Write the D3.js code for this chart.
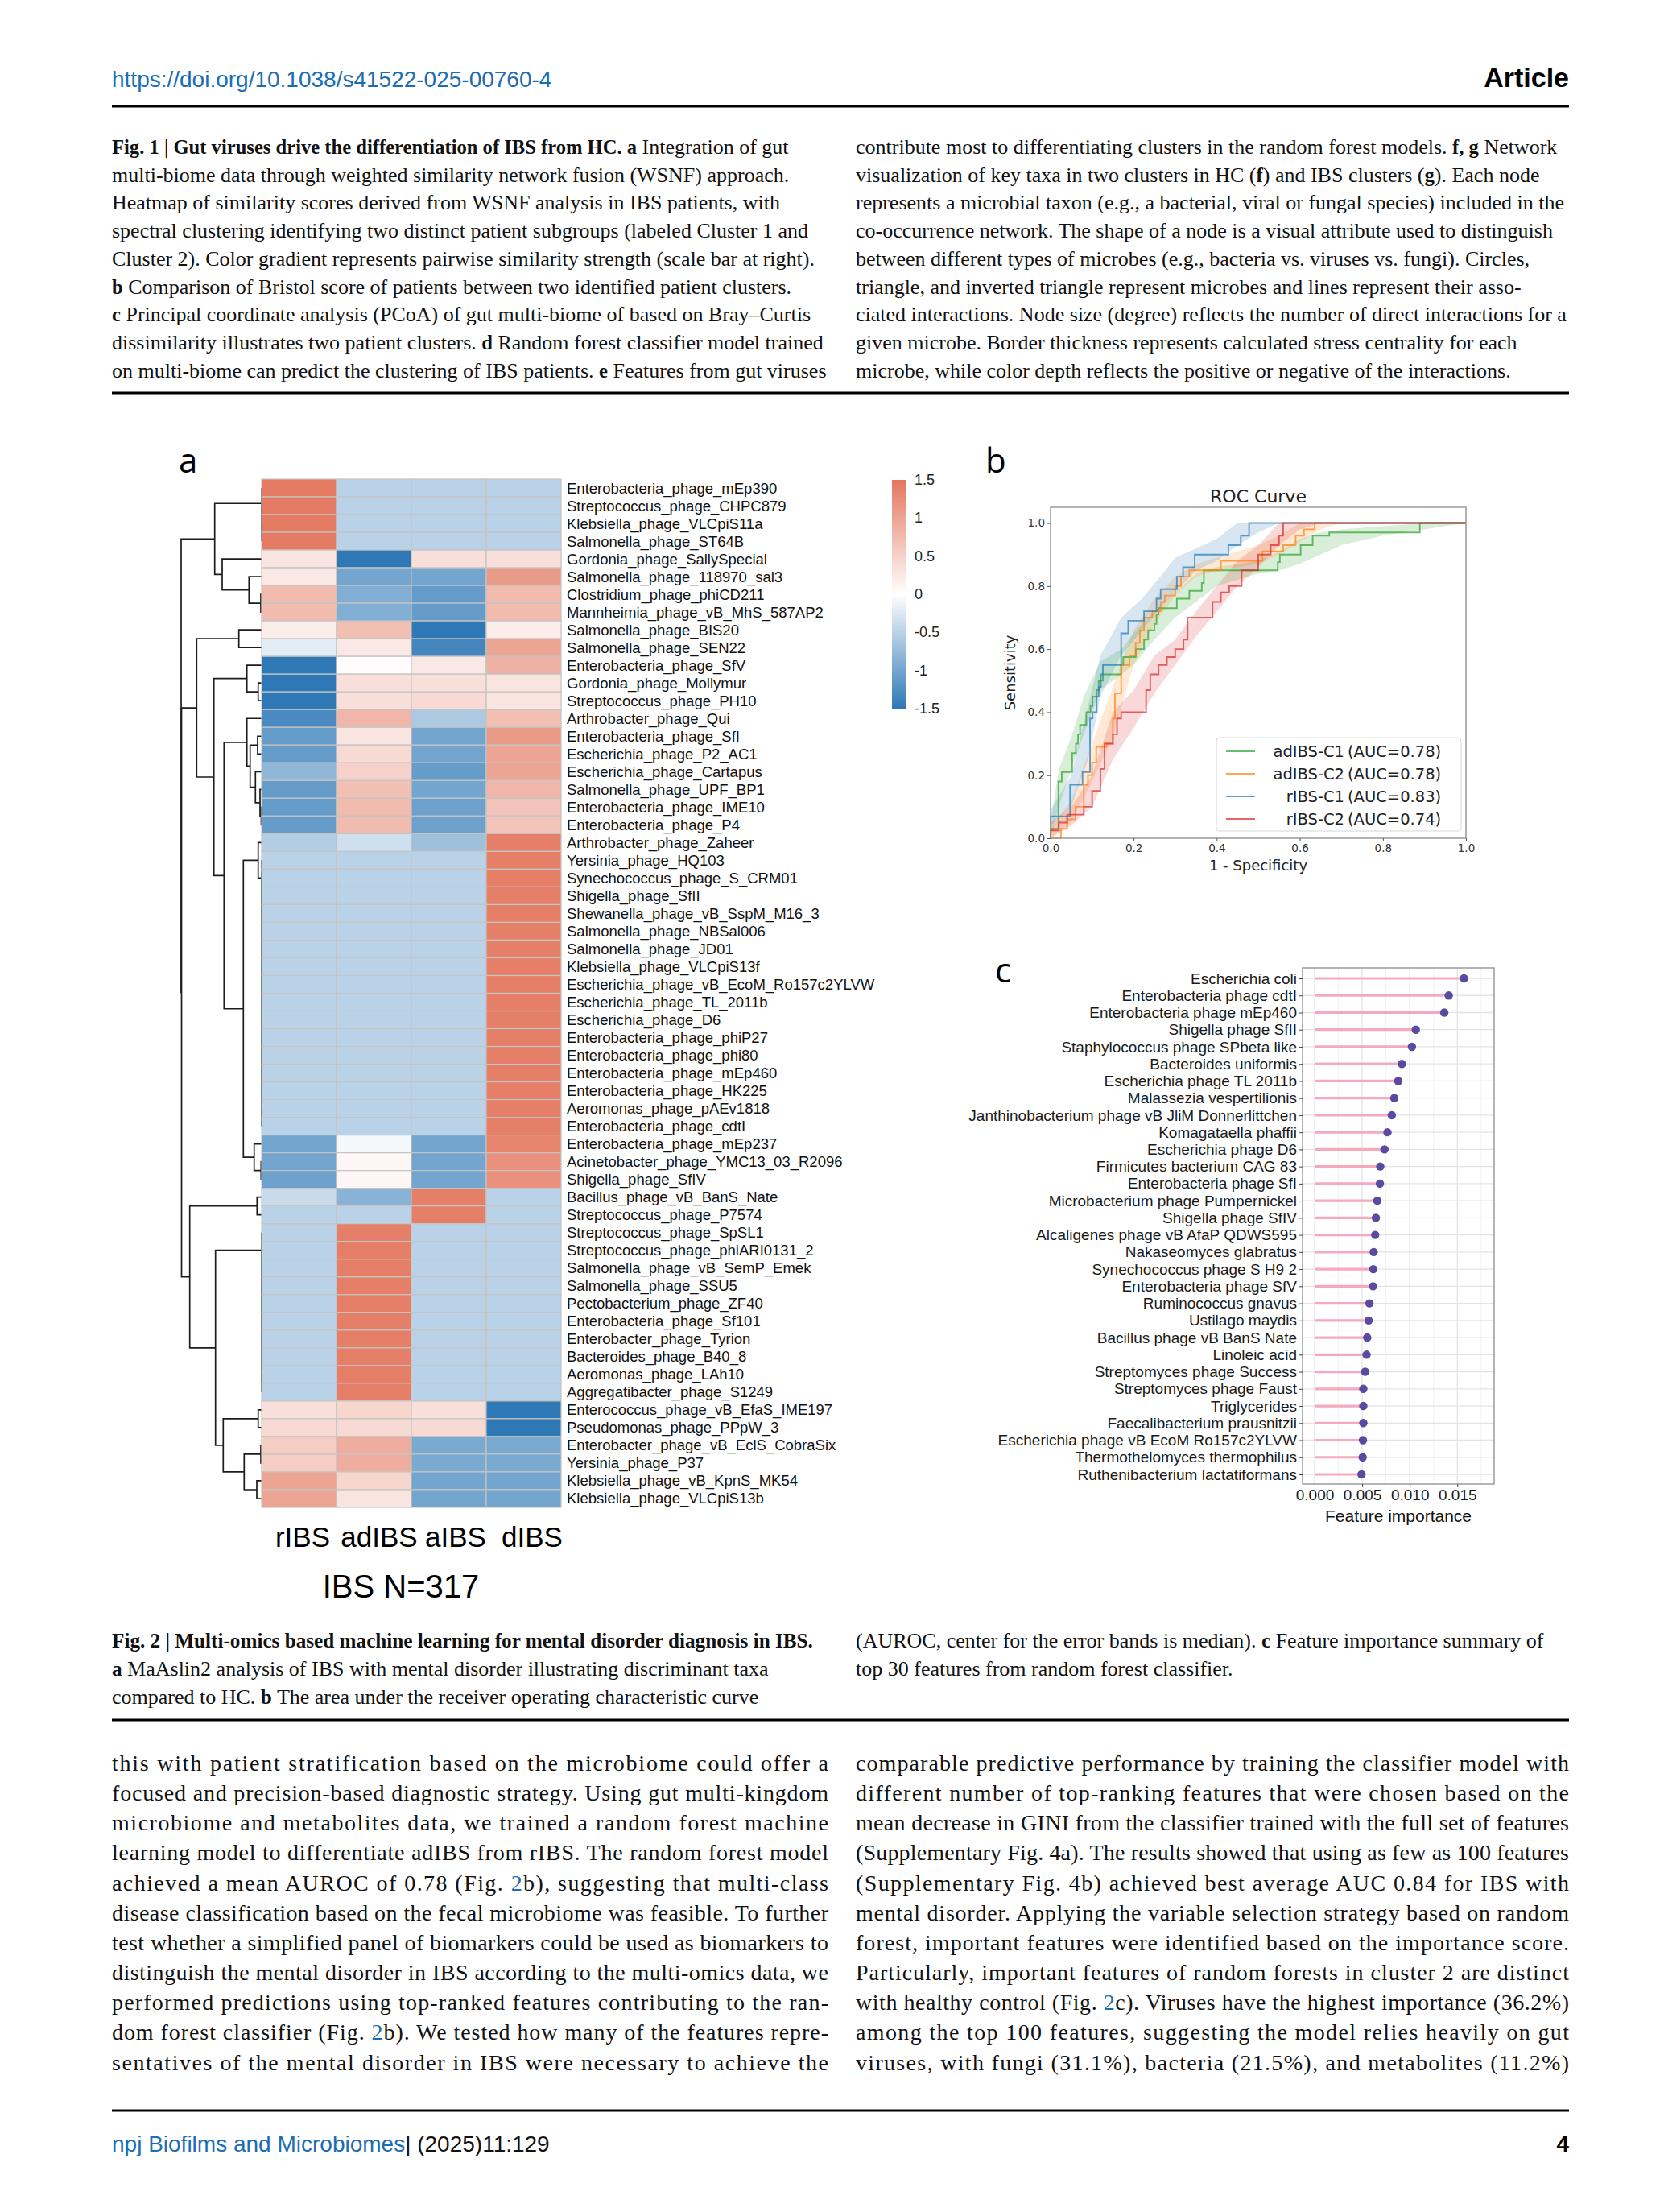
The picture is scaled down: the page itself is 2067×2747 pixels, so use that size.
<!DOCTYPE html>
<html>
<head>
<meta charset="utf-8">
<script src="https://cdn.jsdelivr.net/npm/d3@7"></script>
<style>
  body { margin: 0; background: #fff; }
</style>
</head>
<body>
<div id="page"></div>
<script>
// ---------- data ----------
const rowNames = [
  "Enterobacteria_phage_mEp390", "Streptococcus_phage_CHPC879", "Klebsiella_phage_VLCpiS11a",
  "Salmonella_phage_ST64B", "Gordonia_phage_SallySpecial", "Salmonella_phage_118970_sal3",
  "Clostridium_phage_phiCD211", "Mannheimia_phage_vB_MhS_587AP2", "Salmonella_phage_BIS20",
  "Salmonella_phage_SEN22", "Enterobacteria_phage_SfV", "Gordonia_phage_Mollymur",
  "Streptococcus_phage_PH10", "Arthrobacter_phage_Qui", "Enterobacteria_phage_SfI",
  "Escherichia_phage_P2_AC1", "Escherichia_phage_Cartapus", "Salmonella_phage_UPF_BP1",
  "Enterobacteria_phage_IME10", "Enterobacteria_phage_P4", "Arthrobacter_phage_Zaheer",
  "Yersinia_phage_HQ103", "Synechococcus_phage_S_CRM01", "Shigella_phage_SfII",
  "Shewanella_phage_vB_SspM_M16_3", "Salmonella_phage_NBSal006", "Salmonella_phage_JD01",
  "Klebsiella_phage_VLCpiS13f", "Escherichia_phage_vB_EcoM_Ro157c2YLVW", "Escherichia_phage_TL_2011b",
  "Escherichia_phage_D6", "Enterobacteria_phage_phiP27", "Enterobacteria_phage_phi80",
  "Enterobacteria_phage_mEp460", "Enterobacteria_phage_HK225", "Aeromonas_phage_pAEv1818",
  "Enterobacteria_phage_cdtI", "Enterobacteria_phage_mEp237", "Acinetobacter_phage_YMC13_03_R2096",
  "Shigella_phage_SfIV", "Bacillus_phage_vB_BanS_Nate", "Streptococcus_phage_P7574",
  "Streptococcus_phage_SpSL1", "Streptococcus_phage_phiARI0131_2", "Salmonella_phage_vB_SemP_Emek",
  "Salmonella_phage_SSU5", "Pectobacterium_phage_ZF40", "Enterobacteria_phage_Sf101",
  "Enterobacter_phage_Tyrion", "Bacteroides_phage_B40_8", "Aeromonas_phage_LAh10",
  "Aggregatibacter_phage_S1249", "Enterococcus_phage_vB_EfaS_IME197", "Pseudomonas_phage_PPpW_3",
  "Enterobacter_phage_vB_EclS_CobraSix", "Yersinia_phage_P37", "Klebsiella_phage_vB_KpnS_MK54",
  "Klebsiella_phage_VLCpiS13b"
];
const colNames = ["rIBS", "adIBS", "aIBS", "dIBS"];

// one row per taxon: rIBS, adIBS, aIBS, dIBS
const cellValues = [
  [1.45, -0.5, -0.5, -0.5], [1.45, -0.5, -0.5, -0.5], [1.45, -0.5, -0.5, -0.5], [1.45, -0.5, -0.5, -0.5],
  [0.3, -1.5, 0.35, 0.35], [0.25, -1.0, -1.0, 1.1], [0.75, -0.9, -1.1, 0.75], [0.75, -0.9, -1.1, 0.75],
  [0.2, 0.7, -1.5, 0.2], [-0.2, 0.25, -1.35, 1.0], [-1.5, 0.03, 0.25, 0.85], [-1.5, 0.35, 0.35, 0.3],
  [-1.5, 0.35, 0.4, 0.3], [-1.3, 0.8, -0.6, 0.7], [-1.1, 0.3, -1.0, 1.1], [-1.1, 0.4, -1.0, 1.0],
  [-0.8, 0.5, -1.1, 1.0], [-1.1, 0.7, -1.0, 0.8], [-1.1, 0.75, -1.05, 0.65], [-1.1, 0.75, -1.05, 0.65],
  [-0.55, -0.35, -0.7, 1.4], [-0.5, -0.5, -0.5, 1.4], [-0.5, -0.5, -0.5, 1.4], [-0.5, -0.5, -0.5, 1.4],
  [-0.5, -0.5, -0.5, 1.4], [-0.5, -0.5, -0.5, 1.4], [-0.5, -0.5, -0.5, 1.4], [-0.5, -0.5, -0.5, 1.4],
  [-0.5, -0.5, -0.5, 1.4], [-0.5, -0.5, -0.5, 1.4], [-0.5, -0.5, -0.5, 1.4], [-0.5, -0.5, -0.5, 1.4],
  [-0.5, -0.5, -0.5, 1.4], [-0.5, -0.5, -0.5, 1.4], [-0.5, -0.5, -0.5, 1.4], [-0.5, -0.5, -0.5, 1.4],
  [-0.5, -0.5, -0.5, 1.4], [-1.0, -0.08, -1.0, 1.35], [-1.0, 0.1, -1.0, 1.2], [-1.05, 0.1, -1.0, 1.2],
  [-0.4, -0.85, 1.4, -0.5], [-0.5, -0.5, 1.4, -0.5], [-0.5, 1.4, -0.5, -0.5], [-0.5, 1.4, -0.5, -0.5],
  [-0.5, 1.4, -0.5, -0.5], [-0.5, 1.4, -0.5, -0.5], [-0.5, 1.4, -0.5, -0.5], [-0.5, 1.4, -0.5, -0.5],
  [-0.5, 1.4, -0.5, -0.5], [-0.5, 1.4, -0.5, -0.5], [-0.5, 1.4, -0.5, -0.5], [-0.5, 1.4, -0.5, -0.5],
  [0.35, 0.45, 0.35, -1.5], [0.4, 0.4, 0.4, -1.5], [0.55, 0.9, -0.95, -0.95], [0.55, 0.9, -0.95, -0.95],
  [1.0, 0.45, -1.0, -1.0], [1.0, 0.3, -1.0, -1.0]
];

// row dendrogram: [height, left, right], leaves are 1-based row numbers
const rowTree =
[1.0,
  [0.583,
    [0, 1, [0, 2, [0, 3, 4]]],
    [0.49, 5, [0.157, 6, [0.01, 7, 8]]]],
  [0.995,
    [0.807,
      [0.283, 9, 10],
      [0.593,
        [0.183, 11, [0.043, 12, 13]],
        [0.467,
          [0.183, 14, [0.143, [0.05, 15, 16], [0.077, 17, [0.02, 18, [0.005, 19, 20]]]]],
          [0.227,
            [0.043, 21, [0, 22, [0, 23, [0, 24, [0, 25, [0, 26, [0, 27, [0, 28, [0, 29, [0, 30, [0, 31, [0, 32, [0, 33, [0, 34, [0, 35, [0, 36, 37]]]]]]]]]]]]]]]],
            [0.093, 38, [0.007, 39, 40]]]]]],
    [0.893,
      [0.057, 41, 42],
      [0.573,
        [0, 43, [0, 44, [0, 45, [0, 46, [0, 47, [0, 48, [0, 49, [0, 50, [0, 51, 52]]]]]]]]],
        [0.477,
          [0.043, 53, 54],
          [0.217, [0.01, 55, 56], [0.06, 57, 58]]]]]]];

const colorTicks = [1.5, 1, 0.5, 0, -0.5, -1, -1.5];

// ROC (fpr, tpr) median steps and (fpr, lower, upper) bands
const rocNames = ["adIBS-C1", "adIBS-C2", "rIBS-C1", "rIBS-C2"];
const rocAuc = ["0.78", "0.78", "0.83", "0.74"];
const rocAdC1 = [[0, 0], [0, 0.03], [0.019, 0.18], [0.027, 0.21], [0.052, 0.27], [0.061, 0.30], [0.066, 0.33],
  [0.071, 0.36], [0.086, 0.40], [0.096, 0.42], [0.101, 0.45], [0.111, 0.47], [0.116, 0.50], [0.126, 0.52],
  [0.170, 0.55], [0.175, 0.575], [0.205, 0.60], [0.225, 0.63], [0.235, 0.66], [0.250, 0.68], [0.255, 0.71],
  [0.260, 0.73], [0.304, 0.76], [0.334, 0.785], [0.364, 0.81], [0.369, 0.85], [0.547, 0.876], [0.552, 0.90],
  [0.602, 0.93], [0.631, 0.96], [0.671, 0.97], [0.889, 1.0], [1, 1]];
const rocAdC2 = [[0, 0], [0.02, 0], [0.025, 0.03], [0.04, 0.06], [0.06, 0.1], [0.08, 0.17], [0.09, 0.2],
  [0.1, 0.24], [0.11, 0.29], [0.135, 0.3], [0.15, 0.38], [0.155, 0.46], [0.17, 0.55], [0.19, 0.58],
  [0.205, 0.62], [0.215, 0.66], [0.225, 0.7], [0.245, 0.72], [0.265, 0.75], [0.275, 0.77], [0.3, 0.8],
  [0.314, 0.83], [0.334, 0.85], [0.41, 0.88], [0.51, 0.91], [0.56, 0.93], [0.59, 0.96], [0.61, 0.98],
  [0.636, 1.0], [1, 1]];
const rocRC1 = [[0, 0], [0, 0.07], [0.047, 0.17], [0.077, 0.21], [0.095, 0.38], [0.101, 0.40], [0.111, 0.45],
  [0.116, 0.48], [0.121, 0.52], [0.126, 0.55], [0.170, 0.65], [0.187, 0.69], [0.225, 0.72], [0.255, 0.76],
  [0.265, 0.79], [0.304, 0.83], [0.319, 0.86], [0.347, 0.90], [0.428, 0.93], [0.458, 0.96], [0.478, 1.0], [1, 1]];
const rocRC2 = [[0, 0], [0, 0.025], [0.02, 0.05], [0.04, 0.075], [0.08, 0.1], [0.1, 0.15], [0.12, 0.22],
  [0.13, 0.3], [0.15, 0.33], [0.16, 0.38], [0.17, 0.4], [0.22, 0.4], [0.23, 0.47], [0.24, 0.52], [0.26, 0.55],
  [0.28, 0.575], [0.3, 0.6], [0.32, 0.63], [0.33, 0.7], [0.38, 0.7], [0.39, 0.75], [0.41, 0.78], [0.43, 0.8],
  [0.46, 0.85], [0.5, 0.9], [0.53, 0.93], [0.55, 0.96], [0.56, 1.0], [1, 1]];
const bandAdC1 = [[0, 0, 0.05], [0.02, 0.1, 0.22], [0.05, 0.22, 0.32], [0.08, 0.33, 0.45], [0.12, 0.47, 0.56],
  [0.17, 0.52, 0.6], [0.2, 0.55, 0.65], [0.25, 0.63, 0.72], [0.3, 0.7, 0.78], [0.35, 0.75, 0.84], [0.4, 0.8, 0.86],
  [0.5, 0.84, 0.88], [0.55, 0.85, 0.91], [0.6, 0.87, 0.95], [0.65, 0.9, 0.97], [0.7, 0.93, 0.98],
  [0.8, 0.96, 0.99], [0.9, 0.98, 1.0], [1, 1, 1]];
const bandAdC2 = [[0, 0, 0.03], [0.05, 0.05, 0.12], [0.1, 0.18, 0.3], [0.15, 0.32, 0.48], [0.2, 0.55, 0.66],
  [0.25, 0.68, 0.76], [0.3, 0.77, 0.83], [0.35, 0.83, 0.87], [0.4, 0.85, 0.89], [0.5, 0.87, 0.93],
  [0.55, 0.9, 0.96], [0.6, 0.94, 1.0], [0.65, 0.98, 1.0], [0.7, 1, 1], [1, 1, 1]];
const bandRC1 = [[0, 0.04, 0.09], [0.05, 0.1, 0.2], [0.09, 0.25, 0.42], [0.12, 0.45, 0.58], [0.17, 0.58, 0.7],
  [0.22, 0.66, 0.76], [0.27, 0.74, 0.84], [0.3, 0.78, 0.89], [0.35, 0.85, 0.92], [0.4, 0.88, 0.95],
  [0.45, 0.93, 1.0], [0.5, 0.97, 1.0], [0.55, 1, 1], [1, 1, 1]];
const bandRC2 = [[0, 0, 0.05], [0.05, 0.04, 0.1], [0.1, 0.1, 0.2], [0.15, 0.25, 0.4], [0.2, 0.35, 0.47],
  [0.25, 0.46, 0.58], [0.3, 0.55, 0.63], [0.35, 0.64, 0.72], [0.4, 0.72, 0.8], [0.45, 0.8, 0.88],
  [0.5, 0.86, 0.93], [0.55, 0.93, 1.0], [0.6, 0.98, 1.0], [0.65, 1, 1], [1, 1, 1]];
const rocTicks = [0, 0.2, 0.4, 0.6, 0.8, 1.0];

const featureNames = [
  "Escherichia coli", "Enterobacteria phage cdtI", "Enterobacteria phage mEp460", "Shigella phage SfII",
  "Staphylococcus phage SPbeta like", "Bacteroides uniformis", "Escherichia phage TL 2011b",
  "Malassezia vespertilionis", "Janthinobacterium phage vB JliM Donnerlittchen", "Komagataella phaffii",
  "Escherichia phage D6", "Firmicutes bacterium CAG 83", "Enterobacteria phage SfI",
  "Microbacterium phage Pumpernickel", "Shigella phage SfIV", "Alcaligenes phage vB AfaP QDWS595",
  "Nakaseomyces glabratus", "Synechococcus phage S H9 2", "Enterobacteria phage SfV", "Ruminococcus gnavus",
  "Ustilago maydis", "Bacillus phage vB BanS Nate", "Linoleic acid", "Streptomyces phage Success",
  "Streptomyces phage Faust", "Triglycerides", "Faecalibacterium prausnitzii",
  "Escherichia phage vB EcoM Ro157c2YLVW", "Thermothelomyces thermophilus", "Ruthenibacterium lactatiformans"
];
const featureImportance = [
  0.0157, 0.0141, 0.01363, 0.01064, 0.01023, 0.00917, 0.00879, 0.00837, 0.00811, 0.00766,
  0.00735, 0.0069, 0.00686, 0.00659, 0.00644, 0.00637, 0.00621, 0.00617, 0.00614, 0.00576,
  0.00568, 0.00553, 0.00546, 0.00531, 0.00512, 0.00512, 0.00512, 0.00508, 0.00505, 0.00493
];
const importanceTicks = [0, 0.005, 0.010, 0.015];
const importanceMinor = [0.0025, 0.0075, 0.0125, 0.0175];

// ---------- page text ----------
const captionFig1Left = [
  [["Fig. 1 | Gut viruses drive the differentiation of IBS from HC. a", "b"], [" Integration of gut", ""]],
  "multi-biome data through weighted similarity network fusion (WSNF) approach.",
  "Heatmap of similarity scores derived from WSNF analysis in IBS patients, with",
  "spectral clustering identifying two distinct patient subgroups (labeled Cluster 1 and",
  "Cluster 2). Color gradient represents pairwise similarity strength (scale bar at right).",
  [["b", "b"], [" Comparison of Bristol score of patients between two identified patient clusters.", ""]],
  [["c", "b"], [" Principal coordinate analysis (PCoA) of gut multi-biome of based on Bray–Curtis", ""]],
  [["dissimilarity illustrates two patient clusters. ", ""], ["d", "b"], [" Random forest classifier model trained", ""]],
  [["on multi-biome can predict the clustering of IBS patients. ", ""], ["e", "b"], [" Features from gut viruses", ""]]
];
const captionFig1Right = [
  [["contribute most to differentiating clusters in the random forest models. ", ""], ["f, g", "b"], [" Network", ""]],
  [["visualization of key taxa in two clusters in HC (", ""], ["f", "b"], [") and IBS clusters (", ""], ["g", "b"], ["). Each node", ""]],
  "represents a microbial taxon (e.g., a bacterial, viral or fungal species) included in the",
  "co-occurrence network. The shape of a node is a visual attribute used to distinguish",
  "between different types of microbes (e.g., bacteria vs. viruses vs. fungi). Circles,",
  "triangle, and inverted triangle represent microbes and lines represent their asso-",
  "ciated interactions. Node size (degree) reflects the number of direct interactions for a",
  "given microbe. Border thickness represents calculated stress centrality for each",
  "microbe, while color depth reflects the positive or negative of the interactions."
];
const captionFig2Left = [
  [["Fig. 2 | Multi-omics based machine learning for mental disorder diagnosis in IBS.", "b"]],
  [["a", "b"], [" MaAslin2 analysis of IBS with mental disorder illustrating discriminant taxa", ""]],
  [["compared to HC. ", ""], ["b", "b"], [" The area under the receiver operating characteristic curve", ""]]
];
const captionFig2Right = [
  [["(AUROC, center for the error bands is median). ", ""], ["c", "b"], [" Feature importance summary of", ""]],
  "top 30 features from random forest classifier."
];
const bodyLeft = [
  "this with patient stratification based on the microbiome could offer a",
  "focused and precision-based diagnostic strategy. Using gut multi-kingdom",
  "microbiome and metabolites data, we trained a random forest machine",
  "learning model to differentiate adIBS from rIBS. The random forest model",
  [["achieved a mean AUROC of 0.78 (Fig. ", ""], ["2", "l"], ["b), suggesting that multi-class", ""]],
  "disease classification based on the fecal microbiome was feasible. To further",
  "test whether a simplified panel of biomarkers could be used as biomarkers to",
  "distinguish the mental disorder in IBS according to the multi-omics data, we",
  "performed predictions using top-ranked features contributing to the ran-",
  [["dom forest classifier (Fig. ", ""], ["2", "l"], ["b). We tested how many of the features repre-", ""]],
  "sentatives of the mental disorder in IBS were necessary to achieve the"
];
const bodyRight = [
  "comparable predictive performance by training the classifier model with",
  "different number of top-ranking features that were chosen based on the",
  "mean decrease in GINI from the classifier trained with the full set of features",
  "(Supplementary Fig. 4a). The results showed that using as few as 100 features",
  "(Supplementary Fig. 4b) achieved best average AUC 0.84 for IBS with",
  "mental disorder. Applying the variable selection strategy based on random",
  "forest, important features were identified based on the importance score.",
  "Particularly, important features of random forests in cluster 2 are distinct",
  [["with healthy control (Fig. ", ""], ["2", "l"], ["c). Viruses have the highest importance (36.2%)", ""]],
  "among the top 100 features, suggesting the model relies heavily on gut",
  "viruses, with fungi (31.1%), bacteria (21.5%), and metabolites (11.2%)"
];

// ---------- canvas ----------
const svgWidth = 2067, svgHeight = 2747;
const sans = "'Liberation Sans', Arial, sans-serif";
const serif = "'Liberation Serif', 'Times New Roman', serif";
const linkBlue = "#1b6db4";

const canvas = d3.select("#page")
  .append("svg")
    .attr("width", svgWidth)
    .attr("height", svgHeight)
    .style("display", "block")
    .style("background", "#fff");

const colL = 139, colR = 1949, col2 = 1063, col1End = 1029;

function drawLines(lines, x, y0, dy, size, boldSize, width) {
  lines.forEach((line, i) => {
    const t = canvas.append("text")
      .attr("x", x)
      .attr("y", y0 + i * dy)
      .attr("font-family", serif)
      .attr("font-size", size)
      .attr("fill", "#111");
    const parts = typeof line === "string" ? [[line, ""]] : line;
    parts.forEach(p => {
      const s = t.append("tspan")
        .text(p[0])
        .attr("fill", p[1] === "l" ? linkBlue : "#111");
      if (p[1] === "b") s.attr("font-weight", 700).attr("font-size", boldSize);
    });
    if (width) t.attr("textLength", width).attr("lengthAdjust", "spacing");
  });
}

// header
canvas.append("text")
  .text("https://doi.org/10.1038/s41522-025-00760-4")
  .attr("x", colL).attr("y", 108)
  .attr("font-family", sans).attr("font-size", 28)
  .attr("fill", linkBlue);
canvas.append("text")
  .text("Article")
  .attr("x", colR).attr("y", 108)
  .attr("text-anchor", "end")
  .attr("font-family", sans).attr("font-size", 34).attr("font-weight", 700);

[132, 488, 2136, 2621].forEach(y => {
  canvas.append("line")
    .attr("x1", colL).attr("x2", colR)
    .attr("y1", y).attr("y2", y)
    .attr("stroke", "#000").attr("stroke-width", 3);
});

drawLines(captionFig1Left, colL, 191, 34.7, 26, 24.6);
drawLines(captionFig1Right, col2, 191, 34.7, 26, 24.6);
drawLines(captionFig2Left, colL, 2046, 35.2, 26, 25.2);
drawLines(captionFig2Right, col2, 2046, 35.2, 26, 25.2);
drawLines(bodyLeft, colL, 2199, 37.15, 28, 28, col1End - colL);
drawLines(bodyRight, col2, 2199, 37.15, 28, 28, colR - col2);

// footer
const footer = canvas.append("text")
  .attr("x", colL).attr("y", 2672)
  .attr("font-family", sans).attr("font-size", 28);
footer.append("tspan").text("npj Biofilms and Microbiomes").attr("fill", linkBlue);
footer.append("tspan").text("| (2025)11:129").attr("fill", "#111");
canvas.append("text")
  .text("4")
  .attr("x", colR).attr("y", 2672)
  .attr("text-anchor", "end")
  .attr("font-family", sans).attr("font-size", 28).attr("font-weight", 700);

// panel letters
[["a", 222, 587], ["b", 1224, 587], ["c", 1236, 1220]].forEach(d => {
  canvas.append("text")
    .text(d[0])
    .attr("x", d[1]).attr("y", d[2])
    .attr("font-family", "'Open Sans', sans-serif")
    .attr("font-size", 42);
});

// ---------- panel a: heatmap ----------
const heatLeft = 325, heatRight = 697, heatTop = 595, heatBottom = 1872;
const xHeat = d3.scaleBand().domain(colNames).range([heatLeft, heatRight]);
const yHeat = d3.scaleBand().domain(rowNames).range([heatTop, heatBottom]);
const heatColor = d3.scaleLinear()
  .domain([-1.5, 0, 1.5])
  .range(["#2f78b6", "#ffffff", "#e3765d"])
  .clamp(true);

// dendrogram
const hx = d3.scaleLinear().domain([0, 1]).range([heatLeft, 225]);
const dendro = canvas.append("g")
  .attr("fill", "none")
  .attr("stroke", "#1c1c1c")
  .attr("stroke-width", 1.7);
function drawNode(node) {
  if (typeof node === "number") {
    return { x: hx(0), y: yHeat(rowNames[node - 1]) + yHeat.bandwidth() / 2 };
  }
  const a = drawNode(node[1]);
  const b = drawNode(node[2]);
  const x = hx(node[0]);
  dendro.append("path").attr("d", `M${a.x},${a.y}H${x}V${b.y}H${b.x}`);
  return { x: x, y: (a.y + b.y) / 2 };
}
drawNode(rowTree);

const cells = [];
cellValues.forEach((row, i) => row.forEach((v, j) => cells.push({ r: rowNames[i], c: colNames[j], v: v })));
canvas.append("g")
  .selectAll("rect")
  .data(cells)
  .enter()
  .append("rect")
    .attr("x", d => xHeat(d.c))
    .attr("y", d => yHeat(d.r))
    .attr("width", xHeat.bandwidth())
    .attr("height", yHeat.bandwidth())
    .attr("fill", d => heatColor(d.v))
    .attr("stroke", "#c4c4c4")
    .attr("stroke-width", 1.2);

canvas.append("g")
  .selectAll("text")
  .data(rowNames)
  .enter()
  .append("text")
    .text(d => d)
    .attr("x", heatRight + 7)
    .attr("y", d => yHeat(d) + yHeat.bandwidth() / 2 + 6.5)
    .attr("font-family", sans)
    .attr("font-size", 18.5)
    .attr("fill", "#111");

const colLabelX = d3.scalePoint().domain(colNames).range([376, 661]);
canvas.append("g")
  .selectAll("text")
  .data(colNames)
  .enter()
  .append("text")
    .text(d => d)
    .attr("x", d => colLabelX(d))
    .attr("y", 1921)
    .attr("text-anchor", "middle")
    .attr("font-family", sans)
    .attr("font-size", 35);
canvas.append("text")
  .text("IBS N=317")
  .attr("x", 498).attr("y", 1984)
  .attr("text-anchor", "middle")
  .attr("font-family", sans)
  .attr("font-size", 40);

// colour bar
const barY = d3.scaleLinear().domain([-1.5, 1.5]).range([880, 596]);
const grad = canvas.append("defs").append("linearGradient")
  .attr("id", "heatgrad")
  .attr("x1", 0).attr("x2", 0).attr("y1", 1).attr("y2", 0);
colorTicks.slice().reverse().forEach(v => {
  grad.append("stop")
    .attr("offset", (v + 1.5) / 3)
    .attr("stop-color", heatColor(v));
});
canvas.append("rect")
  .attr("x", 1108).attr("y", barY(1.5))
  .attr("width", 18).attr("height", barY(-1.5) - barY(1.5))
  .attr("fill", "url(#heatgrad)");
canvas.append("g")
  .selectAll("text")
  .data(colorTicks)
  .enter()
  .append("text")
    .text(d => d)
    .attr("x", 1136)
    .attr("y", d => barY(d) + 6)
    .attr("font-family", sans)
    .attr("font-size", 18)
    .attr("fill", "#222");

// ---------- panel b: ROC ----------
const rocX = d3.scaleLinear().domain([0, 1]).range([1305, 1821]);
const rocY = d3.scaleLinear().domain([0, 1.05]).range([1041, 630]);
const rocColors = ["#2ca02c", "#ff7f0e", "#1f77b4", "#d62728"];
const rocMedians = [rocAdC1, rocAdC2, rocRC1, rocRC2];
const rocBands = [bandAdC1, bandAdC2, bandRC1, bandRC2];
const dv = "'DejaVu Sans', sans-serif";

const roc = canvas.append("g");
const bandArea = d3.area()
  .x(d => rocX(d[0]))
  .y0(d => rocY(d[1]))
  .y1(d => rocY(d[2]));
const stepLine = d3.line()
  .x(d => rocX(d[0]))
  .y(d => rocY(d[1]))
  .curve(d3.curveStepAfter);

rocBands.forEach((b, i) => {
  roc.append("path")
    .attr("d", bandArea(b))
    .attr("fill", rocColors[i])
    .attr("fill-opacity", 0.18);
});
rocMedians.forEach((m, i) => {
  roc.append("path")
    .attr("d", stepLine(m))
    .attr("fill", "none")
    .attr("stroke", rocColors[i])
    .attr("stroke-opacity", 0.7)
    .attr("stroke-width", 1.9);
});

roc.append("rect")
  .attr("x", rocX(0)).attr("y", rocY(1.05))
  .attr("width", rocX(1) - rocX(0)).attr("height", rocY(0) - rocY(1.05))
  .attr("fill", "none")
  .attr("stroke", "#9a9a9a")
  .attr("stroke-width", 1.5);

roc.append("g")
  .attr("transform", `translate(0,${rocY(0)})`)
  .call(d3.axisBottom(rocX).tickValues(rocTicks).tickFormat(d3.format(".1f")).tickSize(4))
  .call(g => g.select(".domain").remove())
  .call(g => g.selectAll("text").attr("font-family", dv).attr("font-size", 13.5).attr("fill", "#333"))
  .call(g => g.selectAll("line").attr("stroke", "#555"));
roc.append("g")
  .attr("transform", `translate(${rocX(0)},0)`)
  .call(d3.axisLeft(rocY).tickValues(rocTicks).tickFormat(d3.format(".1f")).tickSize(4))
  .call(g => g.select(".domain").remove())
  .call(g => g.selectAll("text").attr("font-family", dv).attr("font-size", 13.5).attr("fill", "#333"))
  .call(g => g.selectAll("line").attr("stroke", "#555"));

roc.append("text")
  .text("ROC Curve")
  .attr("x", (rocX(0) + rocX(1)) / 2).attr("y", 624)
  .attr("text-anchor", "middle")
  .attr("font-family", dv).attr("font-size", 22).attr("fill", "#222");
roc.append("text")
  .text("1 - Specificity")
  .attr("x", (rocX(0) + rocX(1)) / 2).attr("y", 1081)
  .attr("text-anchor", "middle")
  .attr("font-family", dv).attr("font-size", 18).attr("fill", "#222");
roc.append("text")
  .text("Sensitivity")
  .attr("transform", `translate(1261,${(rocY(0) + rocY(1.05)) / 2}) rotate(-90)`)
  .attr("text-anchor", "middle")
  .attr("font-family", dv).attr("font-size", 18).attr("fill", "#222");

// legend
const legX = rocX(0) + 206, legY = 916;
roc.append("rect")
  .attr("x", legX).attr("y", legY)
  .attr("width", rocX(1) - 6 - legX).attr("height", 116)
  .attr("rx", 4)
  .attr("fill", "#fff").attr("fill-opacity", 0.85)
  .attr("stroke", "#d6d6d6");
rocNames.forEach((name, i) => {
  const y = legY + 17 + i * 28;
  roc.append("line")
    .attr("x1", rocX(0) + 218).attr("x2", rocX(0) + 254)
    .attr("y1", y).attr("y2", y)
    .attr("stroke", rocColors[i]).attr("stroke-opacity", 0.7).attr("stroke-width", 2);
  roc.append("text")
    .text(name)
    .attr("x", rocX(0) + 365).attr("y", y + 6.5)
    .attr("text-anchor", "end")
    .attr("font-family", dv).attr("font-size", 19.5).attr("fill", "#222");
  roc.append("text")
    .text(`(AUC=${rocAuc[i]})`)
    .attr("x", rocX(0) + 369).attr("y", y + 6.5)
    .attr("font-family", dv).attr("font-size", 19.5).attr("fill", "#222");
});

// ---------- panel c: feature importance ----------
const fLeft = 1618, fRight = 1856, fTop = 1202, fBottom = 1843;
const fx = d3.scaleLinear().domain([-0.00127, 0.01887]).range([fLeft, fRight]);
const fy = d3.scalePoint().domain(featureNames).range([1215, 1831]);
const feat = canvas.append("g");

feat.append("g")
  .selectAll("line")
  .data(importanceMinor)
  .enter()
  .append("line")
    .attr("x1", d => fx(d)).attr("x2", d => fx(d))
    .attr("y1", fTop).attr("y2", fBottom)
    .attr("stroke", "#f2f2f2").attr("stroke-width", 1);
feat.append("g")
  .selectAll("line")
  .data(importanceTicks)
  .enter()
  .append("line")
    .attr("x1", d => fx(d)).attr("x2", d => fx(d))
    .attr("y1", fTop).attr("y2", fBottom)
    .attr("stroke", "#e4e4e4").attr("stroke-width", 1.3);
feat.append("g")
  .selectAll("line")
  .data(featureNames)
  .enter()
  .append("line")
    .attr("x1", fLeft).attr("x2", fRight)
    .attr("y1", d => fy(d)).attr("y2", d => fy(d))
    .attr("stroke", "#e4e4e4").attr("stroke-width", 1.3);

feat.append("g")
  .selectAll("line")
  .data(featureNames)
  .enter()
  .append("line")
    .attr("x1", fx(0))
    .attr("x2", (d, i) => fx(featureImportance[i]))
    .attr("y1", d => fy(d)).attr("y2", d => fy(d))
    .attr("stroke", "#f5a9bd").attr("stroke-width", 3.2);
feat.append("g")
  .selectAll("circle")
  .data(featureNames)
  .enter()
  .append("circle")
    .attr("cx", (d, i) => fx(featureImportance[i]))
    .attr("cy", d => fy(d))
    .attr("r", 5.2)
    .attr("fill", "#5a4ba0");

feat.append("rect")
  .attr("x", fLeft).attr("y", fTop)
  .attr("width", fRight - fLeft).attr("height", fBottom - fTop)
  .attr("fill", "none").attr("stroke", "#8c8c8c").attr("stroke-width", 1.3);

feat.append("g")
  .attr("transform", `translate(${fLeft},0)`)
  .call(d3.axisLeft(fy).tickSize(4).tickPadding(3))
  .call(g => g.select(".domain").remove())
  .call(g => g.selectAll("text").attr("font-family", sans).attr("font-size", 19).attr("fill", "#1a1a1a"))
  .call(g => g.selectAll("line").attr("stroke", "#444"));
feat.append("g")
  .attr("transform", `translate(0,${fBottom})`)
  .call(d3.axisBottom(fx).tickValues(importanceTicks).tickFormat(d3.format(".3f")).tickSize(4).tickPadding(3))
  .call(g => g.select(".domain").remove())
  .call(g => g.selectAll("text").attr("font-family", sans).attr("font-size", 19).attr("fill", "#1a1a1a"))
  .call(g => g.selectAll("line").attr("stroke", "#444"));
feat.append("text")
  .text("Feature importance")
  .attr("x", (fLeft + fRight) / 2).attr("y", 1890)
  .attr("text-anchor", "middle")
  .attr("font-family", sans).attr("font-size", 21).attr("fill", "#111");
</script>
</body>
</html>
